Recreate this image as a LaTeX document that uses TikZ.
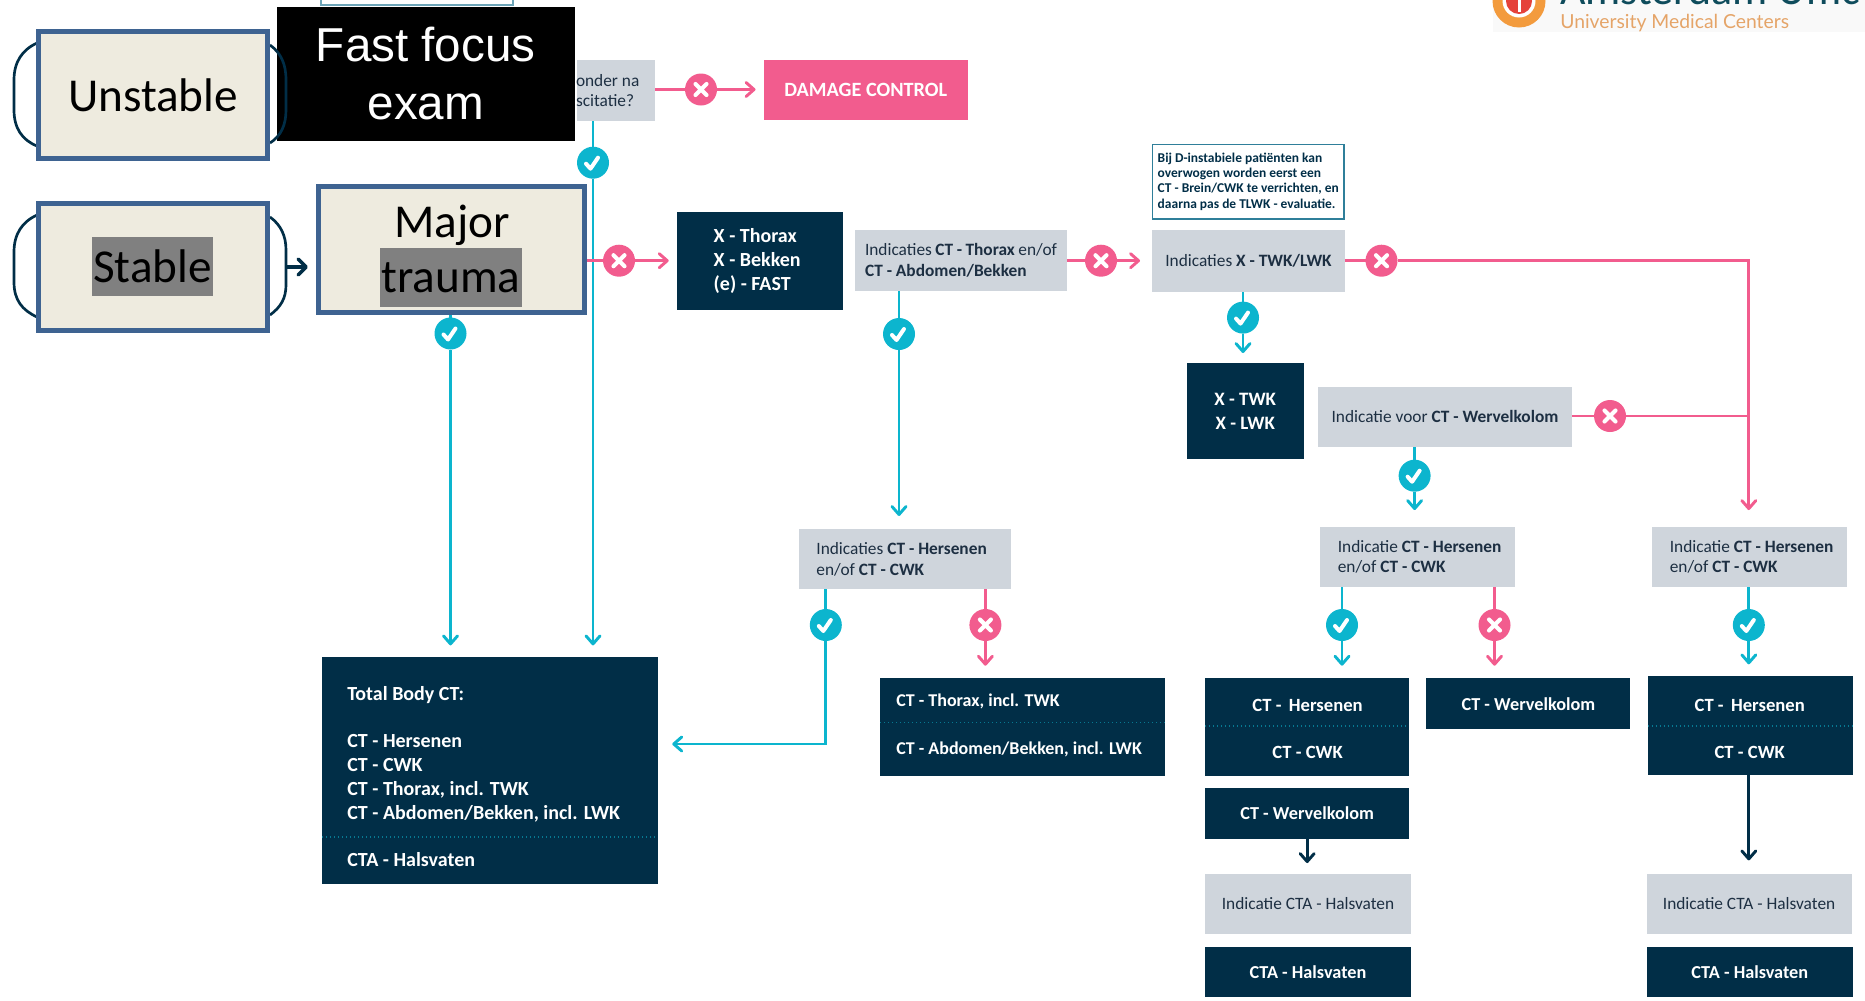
\documentclass[tikz,border=0pt]{standalone}
\usepackage{fontspec}
\setmainfont{Carlito}
\newfontfamily\arialfont{Liberation Sans}
\newfontfamily\latofont{Lato}
\usetikzlibrary{arrows.meta,backgrounds}
\definecolor{navy}{HTML}{012E47}
\definecolor{greybox}{HTML}{CFD5DC}
\definecolor{pinkc}{HTML}{F25C8E}
\definecolor{cyanc}{HTML}{0CB5CE}
\definecolor{creamc}{HTML}{EEEBDF}
\definecolor{blueb}{HTML}{3E6391}
\definecolor{tealb}{HTML}{2F7F9A}
\definecolor{inkc}{HTML}{1D2F42}
\definecolor{logoor}{HTML}{F39B3D}
\definecolor{logotx}{HTML}{E5A468}
\definecolor{logored}{HTML}{E5423A}
\definecolor{logont}{HTML}{0F4C5C}
\newcommand{\BX}[7]{\node[bx,#2,minimum width={(#5-#3)*0.75pt},minimum height={(#6-#4)*0.75pt}] (#1) at ({(#3+#5)/2},{(#4+#6)/2}) {#7};}
\newcommand{\BL}[8]{\node[bx,#2,align=flush left,inner xsep={#8*0.75pt},text width={(#5-#3-2*#8)*0.75pt},minimum height={(#6-#4)*0.75pt}] (#1) at ({(#3+#5)/2},{(#4+#6)/2}) {#7};}
\tikzset{
  bx/.style={inner sep=0pt,outer sep=0pt,align=center},
  dark/.style={fill=navy,text=white,font=\fontsize{14.2}{18}\selectfont\bfseries},
  grey/.style={fill=greybox,text=inkc,font=\fontsize{13}{15.5}\selectfont},
  pinkbox/.style={fill=pinkc,text=white,font=\fontsize{15.2}{18}\selectfont\bfseries},
  cream/.style={fill=creamc,draw=blueb,line width=3.75pt},
  bigt/.style={inner sep=0pt,text=black,font=\fontsize{35.4}{42}\selectfont},
  cyl/.style={draw=cyanc,line width=2.2pt},
  pil/.style={draw=pinkc,line width=2.2pt},
  nvl/.style={draw=navy,line width=2.2pt},
  tip/.style={-{Straight Barb[length=6pt,width=10.5pt,round]}},
  loopb/.style={draw=navy,line width=2pt},
  dots/.style={draw=cyanc!55!navy,line width=0.8pt,dash pattern=on 0.8pt off 2.2pt},
  yes/.style={circle,fill=cyanc,minimum size=24pt,inner sep=0pt,outer sep=0pt,
    path picture={\draw[white,line width=3pt,line cap=round,line join=round]
      ([shift={(-7,1)}]path picture bounding box.center) -- ++(4.5,5) -- ++(7.5,-11);}},
  no/.style={circle,fill=pinkc,minimum size=24pt,inner sep=0pt,outer sep=0pt,
    path picture={\draw[white,line width=3.1pt,line cap=round]
      ([shift={(-5.5,-5.5)}]path picture bounding box.center) -- ++(11,11)
      ([shift={(5.5,-5.5)}]path picture bounding box.center) -- ++(-11,11);}},
}
\begin{document}
\begin{tikzpicture}[x=0.75pt,y=-0.75pt]
\useasboundingbox (0,0) rectangle (1865,1000);
% logo
\fill[white!97.5!black] (1493,0) rectangle (1865,32);
\fill[logoor] (1519,1) circle (26.5);
\fill[white] (1519,1) circle (16.5);
\fill[logored] (1519,1) circle (13);
\fill[white] (1517.5,-1) rectangle (1520.5,12);
\node[inner sep=0pt,anchor=base west,text=logont,font=\fontsize{33}{33}\selectfont] (logoa) at (1560,4.5) {Amsterdam Umc};
\node[inner sep=0pt,anchor=base west,text=logotx,font=\latofont\fontsize{14.5}{18}\selectfont] (logob) at (1560,28) {University Medical Centers};

% top strip behind the black box
\draw[tealb!70!white,line width=1.1pt,fill=white] (321,-4) rectangle (513,5);

% grey question box and black box
\BL{q}{grey}{576.5}{60}{655}{121}{onder na\\scitatie?}{-0.5}
\BX{ffe}{fill=black,text=white,font=\arialfont\fontsize{35.7}{43.5}\selectfont}{277}{7}{574.5}{141}{Fast focus\\exam}

% loops behind Unstable / Stable
\draw[loopb] (37,43) .. controls (22,50) and (14,62) .. (14,80) -- (14,110) .. controls (14,128) and (22,140) .. (37,146);
\draw[loopb] (270,45) .. controls (281,53) and (286,64) .. (286,80) -- (286,110) .. controls (286,125) and (281,136) .. (270,143);
\draw[loopb] (37,215) .. controls (22,222) and (14,234) .. (14,252) -- (14,282) .. controls (14,300) and (22,310) .. (37,317);
\draw[loopb] (270,217) .. controls (281,225) and (286,236) .. (286,250) -- (286,285) .. controls (286,298) and (281,307) .. (270,315);

\BX{unst}{cream}{38.5}{31.5}{267.5}{158}{}
\BX{stab}{cream}{38.5}{203.5}{267.5}{330.5}{}
\BX{major}{cream}{318.5}{186.5}{584.5}{312.5}{}
\node[bigt] (unstt) at (153,95) {Unstable};
\node[bigt,fill=black!50,minimum width=90.75pt,minimum height=44.25pt] (stabt) at (152.5,266.5) {Stable};
\node[bigt] (majt) at (452,225.5) {Major};
\node[bigt,fill=black!50,minimum width=106.5pt,minimum height=44.25pt] (traumt) at (451,277.5) {trauma};

\BX{dc}{pinkbox}{763.5}{59.5}{968}{120}{DAMAGE CONTROL}
\BL{xr}{dark,font=\fontsize{15}{18}\selectfont\bfseries}{676.7}{212}{843}{310}{X - Thorax\\X - Bekken\\(e) - FAST}{37}
\BL{ithor}{grey}{855}{230}{1067}{291}{Indicaties \textbf{CT - Thorax} en/of\\\textbf{CT - Abdomen/Bekken}}{10}
\BX{itwk}{grey}{1152}{230}{1345}{292}{Indicaties \textbf{X - TWK/LWK}}
\BX{note}{draw=tealb,line width=1.1pt,text=navy,font=\fontsize{10.1}{11.3}\selectfont\bfseries,align=left}{1152.5}{144.5}{1344}{219}{Bij D-instabiele patiënten kan\\overwogen worden eerst een\\CT - Brein/CWK te verrichten, en\\daarna pas de TLWK - evaluatie.}
\BX{xtwk}{dark}{1187}{363}{1303.5}{459}{X - TWK\\X - LWK}
\BX{iwerv}{grey}{1318}{386.5}{1572}{447}{Indicatie voor \textbf{CT - Wervelkolom}}
\BL{iha}{grey}{1319.8}{526.7}{1514.6}{587.3}{\mbox{Indicatie \textbf{CT - Hersenen}}\\\mbox{en/of \textbf{CT - CWK}}}{18}
\BL{ihb}{grey}{1651.8}{526.7}{1846.7}{587.3}{\mbox{Indicatie \textbf{CT - Hersenen}}\\\mbox{en/of \textbf{CT - CWK}}}{18}
\BL{ihc}{grey}{799.4}{529.3}{1010.7}{589.3}{Indicaties \textbf{CT - Hersenen}\\en/of \textbf{CT - CWK}}{17}

% Total body
\BX{tb}{fill=navy}{322}{656.7}{657.6}{884}{}
\node[inner sep=0pt,anchor=north west,text=white,align=left,font=\fontsize{15}{18}\selectfont\bfseries] (tbt) at (347,686) {Total Body CT:\\[17.6pt]CT - Hersenen\\CT - CWK\\CT - Thorax, incl. TWK\\CT - Abdomen/Bekken, incl. LWK\\[17.4pt]CTA - Halsvaten};
\draw[dots] (tb.west |- 0,837) -- (tb.east |- 0,837);

% Thorax / abdomen
\BX{ct}{fill=navy}{880}{677.7}{1165}{776}{}
\node[inner sep=0pt,anchor=west,text=white,font=\fontsize{13.5}{18}\selectfont\bfseries] (ct1) at (896,701.7) {CT - Thorax, incl. TWK};
\node[inner sep=0pt,anchor=west,text=white,font=\fontsize{13.5}{18}\selectfont\bfseries] (ct2) at (896,749) {CT - Abdomen/Bekken, incl. LWK};
\draw[dots] (ct.west |- 0,722.7) -- (ct.east |- 0,722.7);

% right columns
\BX{ha}{fill=navy}{1205.3}{677.7}{1409}{776.3}{}
\node[inner sep=0pt,text=white,font=\fontsize{14}{18}\selectfont\bfseries] (ha1) at (1307.6,705.7) {CT - \,Hersenen};
\node[inner sep=0pt,text=white,font=\fontsize{14}{18}\selectfont\bfseries] (ha2) at (1307.6,752.7) {CT - CWK};
\draw[dots] (ha.west |- 0,726) -- (ha.east |- 0,726);
\BX{wm}{dark,font=\fontsize{13.7}{18}\selectfont\bfseries,text height=10pt,text depth=0pt}{1426.4}{677.7}{1630.4}{729}{CT - Wervelkolom}
\BX{hb}{fill=navy}{1647.5}{676.3}{1853}{775.3}{}
\node[inner sep=0pt,text=white,font=\fontsize{14}{18}\selectfont\bfseries] (hb1) at (1749.7,705.7) {CT - \,Hersenen};
\node[inner sep=0pt,text=white,font=\fontsize{14}{18}\selectfont\bfseries] (hb2) at (1749.7,752.7) {CT - CWK};
\draw[dots] (hb.west |- 0,726) -- (hb.east |- 0,726);
\BX{wa}{dark,font=\fontsize{13.7}{18}\selectfont\bfseries,text height=8.5pt,text depth=0pt}{1205.3}{788.3}{1409}{839.3}{CT - Wervelkolom}
\BX{cia}{grey}{1205.3}{873.7}{1410.7}{933.7}{Indicatie CTA - Halsvaten}
\BX{caa}{dark,font=\fontsize{13.7}{18}\selectfont\bfseries}{1205.3}{947.3}{1410.7}{997}{CTA - Halsvaten}
\BX{cib}{grey}{1646.6}{873.7}{1851.5}{933.7}{Indicatie CTA - Halsvaten}
\BX{cab}{dark,font=\fontsize{13.7}{18}\selectfont\bfseries}{1646.6}{947.3}{1853}{997}{CTA - Halsvaten}

% decision marks
\node[no] (n1) at (701,89.5) {};
\node[yes] (y1) at (593,162.7) {};
\node[no] (n2) at (619,260.7) {};
\node[yes] (y2) at (450.5,333.5) {};
\node[yes] (y3) at (899,334) {};
\node[no] (n3) at (1101,260.7) {};
\node[no] (n4) at (1381.5,260.7) {};
\node[yes] (y4) at (1243,317.6) {};
\node[no] (n5) at (1610,416) {};
\node[yes] (y5) at (1414.6,475.7) {};
\node[yes] (y6) at (825.8,625) {};
\node[no] (n6) at (985.4,625) {};
\node[yes] (y7) at (1342,625) {};
\node[no] (n7) at (1494.5,625) {};
\node[yes] (y8) at (1748.8,625) {};
\coordinate (stabr) at (286,267);
\coordinate (join) at (1748.8,260.7);

\begin{pgfonlayer}{background}
% cyan
\draw[cyl] (q.south -| y1) -- (y1);
\draw[cyl,tip,shorten >=8.5pt] (y1) -- (y1 |- tb.north);
\draw[cyl] (major.south -| y2) -- (y2);
\draw[cyl,tip,shorten >=8.5pt] (y2) -- (y2 |- tb.north);
\draw[cyl] (ithor.south -| y3) -- (y3);
\draw[cyl,tip,shorten >=10pt] (y3) -- (y3 |- ihc.north);
\draw[cyl] (itwk.south -| y4) -- (y4);
\draw[cyl,tip,shorten >=7.5pt] (y4) -- (y4 |- xtwk.north);
\draw[cyl] (iwerv.south -| y5) -- (y5);
\draw[cyl,tip,shorten >=12.5pt] (y5) -- (y5 |- iha.north);
\draw[cyl] (ihc.south -| y6) -- (y6);
\draw[cyl,tip,shorten >=11pt] (y6) |- (tb.east |- 0,744);
\draw[cyl] (iha.south -| y7) -- (y7);
\draw[cyl,tip,shorten >=9pt] (y7) -- (y7 |- ha.north);
\draw[cyl] (ihb.south -| y8) -- (y8);
\draw[cyl,tip,shorten >=9pt] (y8) -- (y8 |- hb.north);
% pink
\draw[pil] (q.east |- n1) -- (n1);
\draw[pil,tip,shorten >=6pt] (n1) -- (dc.west |- n1);
\draw[pil] (major.east |- n2) -- (n2);
\draw[pil,tip,shorten >=6pt] (n2) -- (xr.west |- n2);
\draw[pil] (ithor.east |- n3) -- (n3);
\draw[pil,tip,shorten >=9pt] (n3) -- (itwk.west |- n3);
\draw[pil] (itwk.east |- n4) -- (n4);
\draw[pil,tip,shorten >=12.5pt] (n4) -| (ihb.north -| join);
\draw[pil] (iwerv.east |- n5) -- (n5);
\draw[pil] (n5) -- (join |- n5);
\draw[pil] (ihc.south -| n6) -- (n6);
\draw[pil,tip,shorten >=9pt] (n6) -- (n6 |- ct.north);
\draw[pil] (iha.south -| n7) -- (n7);
\draw[pil,tip,shorten >=9pt] (n7) -- (n7 |- wm.north);
% navy
\draw[nvl,tip,shorten >=8pt] (wa.south) -- (cia.north -| wa.south);
\draw[nvl,tip,shorten >=10pt] (hb.south -| y8) -- (y8 |- cib.north);
\draw[nvl,line width=2.6pt,-{Straight Barb[length=6pt,width=12pt,round]},shorten >=8pt] (stabr) -- (major.west |- stabr);
\end{pgfonlayer}
\end{tikzpicture}
\end{document}
